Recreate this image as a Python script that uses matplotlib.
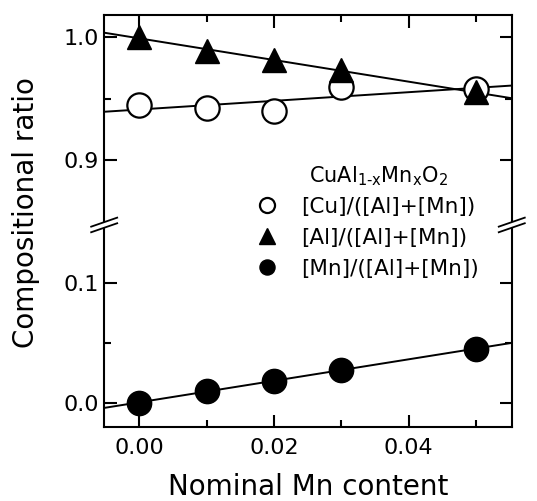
import numpy as np
import matplotlib.pyplot as plt
from matplotlib.lines import Line2D
from matplotlib.patches import Polygon
from matplotlib.ticker import FixedLocator, FormatStrFormatter

# nominal Mn content
x_nom = [0.00, 0.01, 0.02, 0.03, 0.05]
cu_ratio = [0.945, 0.942, 0.940, 0.959, 0.958]
al_ratio = [1.000, 0.989, 0.981, 0.973, 0.955]
mn_ratio = [0.000, 0.010, 0.018, 0.0275, 0.045]

labels = ["[Cu]/([Al]+[Mn])", "[Al]/([Al]+[Mn])", "[Mn]/([Al]+[Mn])"]
legend_title = r"CuAl$_{\mathrm{1\text{-}x}}$Mn$_{\mathrm{x}}$O$_{\mathrm{2}}$"

XLIM = (-0.0052, 0.0553)
TOP_YLIM = (0.847, 1.018)
BOT_YLIM = (-0.02, 0.148)

plt.rcParams["font.family"] = "DejaVu Sans"

fig = plt.figure(figsize=(5.37, 5.01), dpi=100)
left, right, top, bottom, brk = 0.194, 0.953, 0.970, 0.148, 0.551
ax_top = fig.add_axes([left, brk, right - left, top - brk])
ax_bot = fig.add_axes([left, bottom, right - left, brk - bottom])

xfit = np.array(XLIM)


def fit_line(x, y):
    p = np.polyfit(x, y, 1)
    return np.polyval(p, xfit)


ms = 17.5
ax_top.plot(xfit, fit_line(x_nom, al_ratio), color="black", lw=1.4, zorder=1)
ax_top.plot(xfit, fit_line(x_nom, cu_ratio), color="black", lw=1.4, zorder=1)
h_cu, = ax_top.plot(x_nom, cu_ratio, "o", ms=ms, mfc="white", mec="black", mew=1.6,
                    zorder=3, label=labels[0])
h_al, = ax_top.plot(x_nom, al_ratio, "^", ms=ms, color="black", zorder=3, label=labels[1])

ax_bot.plot(xfit, fit_line(x_nom, mn_ratio), color="black", lw=1.4, zorder=1)
h_mn, = ax_bot.plot(x_nom, mn_ratio, "o", ms=ms, color="black", zorder=3, label=labels[2])

for ax, ylim in ((ax_top, TOP_YLIM), (ax_bot, BOT_YLIM)):
    ax.set_xlim(*XLIM)
    ax.set_ylim(*ylim)
    for sp in ax.spines.values():
        sp.set_linewidth(1.5)
    ax.tick_params(which="both", direction="in", top=True, right=True, width=1.5,
                   labelsize=16)
    ax.tick_params(which="major", length=9)
    ax.tick_params(which="minor", length=5)
    ax.xaxis.set_major_locator(FixedLocator([0.0, 0.02, 0.04]))
    ax.xaxis.set_minor_locator(FixedLocator([0.01, 0.03, 0.05]))
    ax.yaxis.set_major_formatter(FormatStrFormatter("%.1f"))

ax_top.spines["bottom"].set_visible(False)
ax_bot.spines["top"].set_visible(False)
ax_top.tick_params(which="both", bottom=False, labelbottom=False)
ax_bot.tick_params(which="both", top=False)
ax_top.yaxis.set_major_locator(FixedLocator([0.9, 1.0]))
ax_top.yaxis.set_minor_locator(FixedLocator([0.95]))
ax_bot.yaxis.set_major_locator(FixedLocator([0.0, 0.1]))
ax_bot.yaxis.set_minor_locator(FixedLocator([0.05]))
ax_bot.xaxis.set_major_formatter(FormatStrFormatter("%.2f"))
ax_bot.tick_params(axis="x", pad=8)

ax_bot.set_xlabel("Nominal Mn content", fontsize=20, labelpad=11)
fig.text(0.048, 1 - 213 / 501, "Compositional ratio", rotation=90, fontsize=20,
         ha="center", va="center")

# break marks on both spines
W, H = 537, 501
for xs in (left, right):
    cx, cy = xs * W, brk * H
    dx, dy, gap = 13, 4.5, 2.8
    poly = Polygon([((cx - dx) / W, (cy - dy - gap) / H), ((cx + dx) / W, (cy + dy - gap) / H),
                    ((cx + dx) / W, (cy + dy + gap) / H), ((cx - dx) / W, (cy - dy + gap) / H)],
                   closed=True, transform=fig.transFigure, fc="white", ec="none", zorder=5)
    fig.add_artist(poly)
    for off in (-gap, gap):
        fig.add_artist(Line2D([(cx - dx) / W, (cx + dx) / W],
                              [(cy - dy + off) / H, (cy + dy + off) / H],
                              transform=fig.transFigure, color="black", lw=1.3, zorder=6))

fig.text(309 / W, 1 - 176 / H, legend_title, fontsize=15, ha="left", va="center")
fig.legend(handles=[h_cu, h_al, h_mn], loc="upper left",
           bbox_to_anchor=(254 / W, 1 - 197 / H), frameon=False, fontsize=15.5,
           markerscale=0.62, handlelength=1.2, handletextpad=1.0, labelspacing=0.5,
           borderpad=0, borderaxespad=0)

fig.savefig("out.png", dpi=100)
